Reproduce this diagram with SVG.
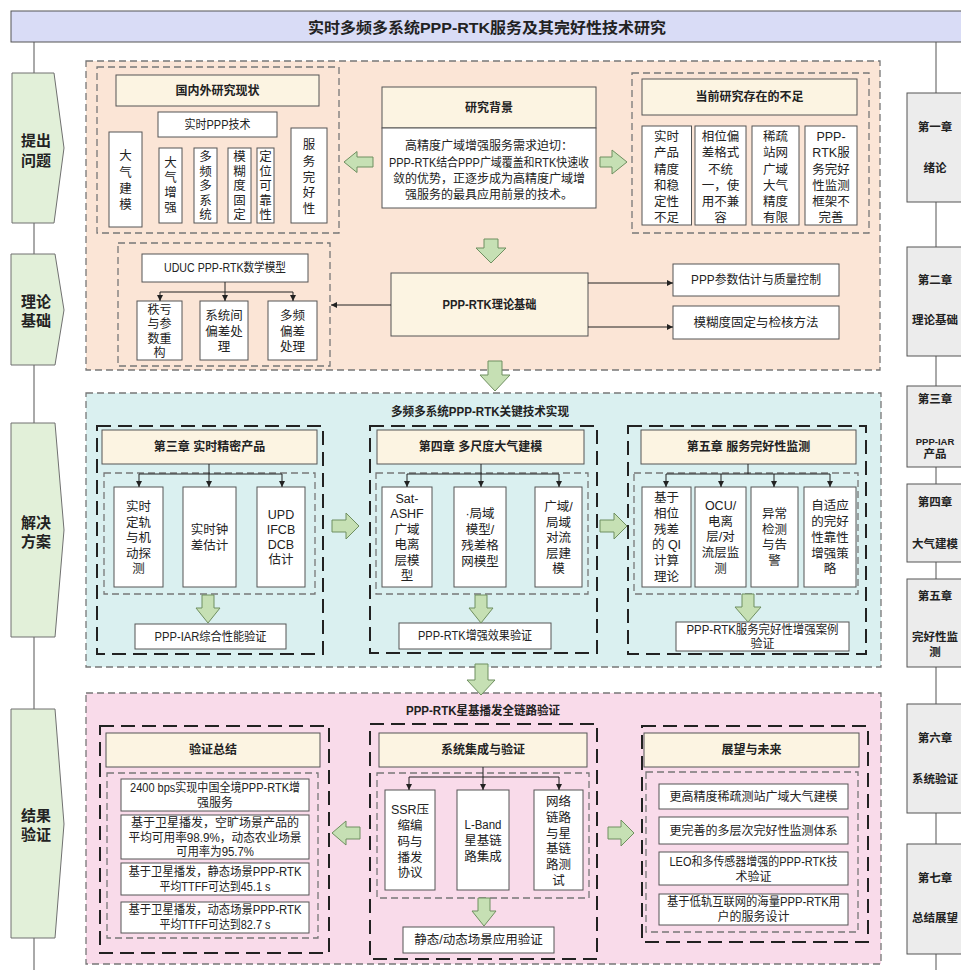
<svg xmlns="http://www.w3.org/2000/svg" width="961" height="970" viewBox="0 0 961 970">
<style>
text{font-family:'Liberation Sans','Noto Sans CJK SC',sans-serif;fill:#222;text-anchor:middle;dominant-baseline:central;font-size:12.5px}
.b{font-weight:bold;font-size:12px}
.s12{font-size:12px}
.lab{font-size:15px;font-weight:bold}
.ch{font-size:11.5px;font-weight:bold}
.sm{font-size:9.5px;font-weight:bold}
.ttl{font-size:15px;font-weight:bold}
.box{fill:#fff;stroke:#555;stroke-width:1}
.hdr{fill:#fcf4e2;stroke:#555;stroke-width:1}
.sec1{fill:#fbe5d6;stroke:#777;stroke-width:1.3;stroke-dasharray:7 4}
.sec2{fill:#daf0f0;stroke:#777;stroke-width:1.3;stroke-dasharray:7 4}
.sec3{fill:#f9dbea;stroke:#777;stroke-width:1.3;stroke-dasharray:7 4}
.grp{fill:none;stroke:#777;stroke-width:1.3;stroke-dasharray:7 4}
.col{fill:none;stroke:#222;stroke-width:2;stroke-dasharray:14 7}
.ga{fill:#c6e0b4;stroke:#6f8f60;stroke-width:1}
.chev{fill:#e2f0d9;stroke:#707070;stroke-width:1}
.chap{fill:#ececec;stroke:#555;stroke-width:1}
.ln{fill:none;stroke:#222;stroke-width:1}
.arr{fill:none;stroke:#222;stroke-width:1;marker-end:url(#ah)}
.spine{stroke:#555;stroke-width:1;fill:none}
</style>
<defs>
<marker id="ah" viewBox="0 0 10 10" refX="10" refY="5" markerWidth="6" markerHeight="6" orient="auto" markerUnits="userSpaceOnUse"><path d="M0,0 L10,5 L0,10 Z" fill="#222"/></marker>
</defs>

<g id="spines">
<line class="spine" x1="34" y1="42" x2="34" y2="970"/>
<line class="spine" x1="936" y1="42" x2="936" y2="970"/>
</g>

<g id="title">
<rect x="11" y="11" width="960" height="31" fill="#d9dcf6" stroke="#555" stroke-width="1"/>
<text class="ttl" x="487" y="27" textLength="358" lengthAdjust="spacingAndGlyphs">实时多频多系统PPP-RTK服务及其完好性技术研究</text>
</g>

<g id="stages">
<g id="stage1"><path class="chev" d="M12,73 H54 L64,148 L54,223 H12 Z"/><text class="lab" x="36" y="140">提出</text><text class="lab" x="36" y="160">问题</text></g>
<g id="stage2"><path class="chev" d="M11,254 H55 L64,310 L55,365 H11 Z"/><text class="lab" x="36" y="301">理论</text><text class="lab" x="36" y="320">基础</text></g>
<g id="stage3"><path class="chev" d="M11,423 H55 L64,530 L55,637 H11 Z"/><text class="lab" x="36" y="522">解决</text><text class="lab" x="36" y="541">方案</text></g>
<g id="stage4"><path class="chev" d="M11,709 H55 L64,824 L55,938 H11 Z"/><text class="lab" x="36" y="815">结果</text><text class="lab" x="36" y="834">验证</text></g>
</g>

<g id="chapters">
<g id="ch1"><rect class="chap" x="907" y="93" width="70" height="109"/><text class="ch" x="935" y="127">第一章</text><text class="ch" x="935" y="168">绪论</text></g>
<g id="ch2"><rect class="chap" x="907" y="247" width="70" height="109"/><text class="ch" x="935" y="280">第二章</text><text class="ch" x="935" y="320">理论基础</text></g>
<g id="ch3"><rect class="chap" x="907" y="386" width="70" height="81"/><text class="ch" x="935" y="399">第三章</text><text class="sm" x="935" y="441">PPP-IAR</text><text class="ch" x="935" y="454">产品</text></g>
<g id="ch4"><rect class="chap" x="907" y="484" width="70" height="78"/><text class="ch" x="935" y="502">第四章</text><text class="ch" x="935" y="544">大气建模</text></g>
<g id="ch5"><rect class="chap" x="907" y="579" width="70" height="88"/><text class="ch" x="935" y="596">第五章</text><text class="ch" x="935" y="637">完好性监</text><text class="ch" x="935" y="652">测</text></g>
<g id="ch6"><rect class="chap" x="907" y="704" width="70" height="109"/><text class="ch" x="935" y="738">第六章</text><text class="ch" x="935" y="779">系统验证</text></g>
<g id="ch7"><rect class="chap" x="907" y="844" width="70" height="110"/><text class="ch" x="935" y="878">第七章</text><text class="ch" x="935" y="918">总结展望</text></g>
</g>

<!-- Section 1 -->
<g id="section1">
<rect class="sec1" x="86" y="61" width="794" height="309"/>
<g id="status">
<rect class="grp" x="97" y="67" width="242" height="166"/>
<rect class="hdr" x="116" y="75" width="203" height="31"/><text class="b" x="217.5" y="91">国内外研究现状</text>
<rect class="box" x="158" y="112" width="119" height="25"/><text x="217.5" y="124.5" textLength="66" lengthAdjust="spacingAndGlyphs">实时PPP技术</text>
<rect class="box" x="109" y="132" width="33" height="95"/>
<text x="125.5" y="156">大</text><text x="125.5" y="173">气</text><text x="125.5" y="189">建</text><text x="125.5" y="205">模</text>
<rect class="box" x="159" y="148" width="23" height="75"/>
<text x="170.5" y="163">大</text><text x="170.5" y="178">气</text><text x="170.5" y="193">增</text><text x="170.5" y="208">强</text>
<rect class="box" x="194" y="148" width="23" height="75"/>
<text x="205.5" y="157">多</text><text x="205.5" y="171.5">频</text><text x="205.5" y="186">多</text><text x="205.5" y="200.5">系</text><text x="205.5" y="215">统</text>
<rect class="box" x="228" y="148" width="23" height="75"/>
<text x="239.5" y="157">模</text><text x="239.5" y="171.5">糊</text><text x="239.5" y="186">度</text><text x="239.5" y="200.5">固</text><text x="239.5" y="215">定</text>
<rect class="box" x="257" y="148" width="17" height="75"/>
<text x="265.5" y="157">定</text><text x="265.5" y="171.5">位</text><text x="265.5" y="186">可</text><text x="265.5" y="200.5">靠</text><text x="265.5" y="215">性</text>
<rect class="box" x="291" y="128" width="36" height="95"/>
<text x="309" y="145">服</text><text x="309" y="162">务</text><text x="309" y="178">完</text><text x="309" y="193">好</text><text x="309" y="209">性</text>
</g>
<g id="background">
<rect class="hdr" x="382" y="87" width="214" height="41"/><text class="b" x="489" y="108">研究背景</text>
<rect class="box" x="382" y="128" width="214" height="80"/>
<text class="s12" x="489" y="146">高精度广域增强服务需求迫切：</text>
<text class="s12" x="489" y="163" textLength="200" lengthAdjust="spacingAndGlyphs">PPP-RTK结合PPP广域覆盖和RTK快速收</text>
<text class="s12" x="489" y="179">敛的优势，正逐步成为高精度广域增</text>
<text class="s12" x="489" y="195">强服务的最具应用前景的技术。</text>
</g>
<g id="shortcomings">
<rect class="grp" x="632" y="73" width="237" height="160"/>
<rect class="hdr" x="642" y="79" width="215" height="36"/><text class="b" x="749.5" y="97">当前研究存在的不足</text>
<rect class="box" x="642" y="126" width="49.5" height="99"/>
<text x="666.5" y="137">实时</text><text x="666.5" y="153">产品</text><text x="666.5" y="169.5">精度</text><text x="666.5" y="186">和稳</text><text x="666.5" y="202">定性</text><text x="666.5" y="218">不足</text>
<rect class="box" x="695" y="126" width="51" height="99"/>
<text x="720.5" y="137">相位偏</text><text x="720.5" y="153">差格式</text><text x="720.5" y="169.5">不统</text><text x="720.5" y="186">一，使</text><text x="720.5" y="202">用不兼</text><text x="720.5" y="218">容</text>
<rect class="box" x="752" y="126" width="47" height="99"/>
<text x="775.5" y="137">稀疏</text><text x="775.5" y="153">站网</text><text x="775.5" y="169.5">广域</text><text x="775.5" y="186">大气</text><text x="775.5" y="202">精度</text><text x="775.5" y="218">有限</text>
<rect class="box" x="805" y="126" width="52" height="99"/>
<text x="831" y="137">PPP-</text><text x="831" y="153">RTK服</text><text x="831" y="169.5">务完好</text><text x="831" y="186">性监测</text><text x="831" y="202">框架不</text><text x="831" y="218">完善</text>
</g>
<g id="uduc">
<rect class="grp" x="118" y="243" width="212" height="123"/>
<rect class="box" x="142" y="254" width="166" height="28"/><text x="225" y="268" textLength="122" lengthAdjust="spacingAndGlyphs">UDUC PPP-RTK数学模型</text>
<rect class="box" x="137" y="301" width="45" height="59"/>
<text class="s12" x="159.5" y="310">秩亏</text><text class="s12" x="159.5" y="324">与参</text><text class="s12" x="159.5" y="338.5">数重</text><text class="s12" x="159.5" y="353">构</text>
<rect class="box" x="200" y="301" width="48" height="59"/>
<text x="224" y="316">系统间</text><text x="224" y="332">偏差处</text><text x="224" y="347">理</text>
<rect class="box" x="268" y="301" width="49" height="59"/>
<text x="292.5" y="316">多频</text><text x="292.5" y="332">偏差</text><text x="292.5" y="347">处理</text>
</g>
<g id="theory">
<rect class="hdr" x="391" y="273" width="197" height="63"/><text class="b" x="489.5" y="305" textLength="94" lengthAdjust="spacingAndGlyphs">PPP-RTK理论基础</text>
</g>
<g id="ppp-param"><rect class="box" x="673" y="264" width="166" height="32"/><text x="756" y="280" textLength="130" lengthAdjust="spacingAndGlyphs">PPP参数估计与质量控制</text></g>
<g id="ar-method"><rect class="box" x="673" y="306" width="166" height="33"/><text x="756" y="322.5">模糊度固定与检核方法</text></g>
</g>

<!-- Section 2 -->
<g id="section2">
<rect class="sec2" x="86" y="393" width="795" height="274"/>
<text class="b" x="480" y="412" textLength="178" lengthAdjust="spacingAndGlyphs">多频多系统PPP-RTK关键技术实现</text>
<g id="chap3">
<rect class="col" x="97" y="426" width="226" height="228"/>
<rect class="hdr" x="102" y="430" width="215" height="34"/><text class="b" x="209.5" y="447">第三章 实时精密产品</text>
<rect class="grp" x="104" y="473" width="211" height="121"/>
<rect class="box" x="114" y="487" width="49" height="100"/>
<text x="138.5" y="507">实时</text><text x="138.5" y="522.5">定轨</text><text x="138.5" y="538">与机</text><text x="138.5" y="553.5">动探</text><text x="138.5" y="569">测</text>
<rect class="box" x="183" y="487" width="53" height="100"/>
<text x="209.5" y="530">实时钟</text><text x="209.5" y="546">差估计</text>
<rect class="box" x="257" y="487" width="48" height="100"/>
<text x="281" y="515">UPD</text><text x="281" y="530">IFCB</text><text x="281" y="545">DCB</text><text x="281" y="560">估计</text>
<rect class="box" x="135" y="624" width="151" height="25"/><text x="210.5" y="636.5" textLength="112" lengthAdjust="spacingAndGlyphs">PPP-IAR综合性能验证</text>
</g>
<g id="chap4">
<rect class="col" x="370" y="426" width="227" height="227"/>
<rect class="hdr" x="377" y="430" width="207" height="34"/><text class="b" x="480.5" y="447">第四章 多尺度大气建模</text>
<rect class="grp" x="376" y="473" width="212" height="121"/>
<rect class="box" x="382" y="487" width="50" height="100"/>
<text x="407" y="499">Sat-</text><text x="407" y="514.4">ASHF</text><text x="407" y="529.8">广域</text><text x="407" y="545.2">电离</text><text x="407" y="560.6">层模</text><text x="407" y="576">型</text>
<rect class="box" x="454" y="487" width="52" height="100"/>
<text x="480" y="514">·局域</text><text x="480" y="530">模型/</text><text x="480" y="546">残差格</text><text x="480" y="561.5">网模型</text>
<rect class="box" x="535" y="487" width="47" height="100"/>
<text x="558.5" y="507">广域/</text><text x="558.5" y="522.5">局域</text><text x="558.5" y="538">对流</text><text x="558.5" y="553.5">层建</text><text x="558.5" y="569">模</text>
<rect class="box" x="399" y="623" width="152" height="26"/><text x="475" y="636" textLength="114" lengthAdjust="spacingAndGlyphs">PPP-RTK增强效果验证</text>
</g>
<g id="chap5">
<rect class="col" x="628" y="426" width="238" height="228"/>
<rect class="hdr" x="641" y="430" width="215" height="34"/><text class="b" x="748.5" y="447">第五章 服务完好性监测</text>
<rect class="grp" x="634" y="473" width="224" height="121"/>
<rect class="box" x="642" y="487" width="49" height="100"/>
<text x="666.5" y="498">基于</text><text x="666.5" y="513.8">相位</text><text x="666.5" y="529.6">残差</text><text x="666.5" y="545.4">的 QI</text><text x="666.5" y="561.2">计算</text><text x="666.5" y="577">理论</text>
<rect class="box" x="695" y="487" width="51" height="100"/>
<text x="720.5" y="506">OCU/</text><text x="720.5" y="521.5">电离</text><text x="720.5" y="537">层/对</text><text x="720.5" y="553">流层监</text><text x="720.5" y="569">测</text>
<rect class="box" x="751" y="487" width="47" height="100"/>
<text x="774.5" y="514">异常</text><text x="774.5" y="529.5">检测</text><text x="774.5" y="545">与告</text><text x="774.5" y="561">警</text>
<rect class="box" x="804" y="487" width="52" height="100"/>
<text x="830" y="506">自适应</text><text x="830" y="522">的完好</text><text x="830" y="538">性靠性</text><text x="830" y="553.5">增强策</text><text x="830" y="569">略</text>
<rect class="box" x="676" y="622" width="173" height="29"/>
<text class="s12" x="762.5" y="629.5" textLength="152" lengthAdjust="spacingAndGlyphs">PPP-RTK服务完好性增强案例</text><text class="s12" x="762.5" y="644">验证</text>
</g>
</g>

<!-- Section 3 -->
<g id="section3">
<rect class="sec3" x="86" y="693" width="795" height="271"/>
<text class="b" x="483" y="711" textLength="154" lengthAdjust="spacingAndGlyphs">PPP-RTK星基播发全链路验证</text>
<g id="summary">
<rect class="col" x="100" y="726" width="229" height="227"/>
<rect class="hdr" x="106" y="733" width="214" height="34"/><text class="b" x="213" y="750">验证总结</text>
<rect class="grp" x="107" y="773" width="211" height="165"/>
<rect class="box" x="121" y="779" width="188" height="32"/>
<text class="s12" x="215" y="788" textLength="170" lengthAdjust="spacingAndGlyphs">2400 bps实现中国全境PPP-RTK增</text><text class="s12" x="215" y="803">强服务</text>
<rect class="box" x="121" y="815" width="188" height="44"/>
<text class="s12" x="215" y="823">基于卫星播发，空旷场景产品的</text><text class="s12" x="215" y="837.5" textLength="173" lengthAdjust="spacingAndGlyphs">平均可用率98.9%，动态农业场景</text><text class="s12" x="215" y="852" textLength="78" lengthAdjust="spacingAndGlyphs">可用率为95.7%</text>
<rect class="box" x="121" y="863" width="188" height="32"/>
<text class="s12" x="215" y="872" textLength="173" lengthAdjust="spacingAndGlyphs">基于卫星播发，静态场景PPP-RTK</text><text class="s12" x="215" y="887" textLength="111" lengthAdjust="spacingAndGlyphs">平均TTFF可达到45.1 s</text>
<rect class="box" x="121" y="902" width="188" height="31"/>
<text class="s12" x="215" y="910" textLength="173" lengthAdjust="spacingAndGlyphs">基于卫星播发，动态场景PPP-RTK</text><text class="s12" x="215" y="925" textLength="111" lengthAdjust="spacingAndGlyphs">平均TTFF可达到82.7 s</text>
</g>
<g id="integration">
<rect class="col" x="370" y="724" width="227" height="235"/>
<rect class="hdr" x="379" y="733" width="208" height="34"/><text class="b" x="483" y="750">系统集成与验证</text>
<rect class="grp" x="377" y="773" width="212" height="125"/>
<rect class="box" x="385" y="790" width="50" height="100"/>
<text x="410" y="810">SSR压</text><text x="410" y="826">缩编</text><text x="410" y="842">码与</text><text x="410" y="857.5">播发</text><text x="410" y="873">协议</text>
<rect class="box" x="457" y="790" width="52" height="100"/>
<text x="483" y="825" textLength="37" lengthAdjust="spacingAndGlyphs">L-Band</text><text x="483" y="841">星基链</text><text x="483" y="857">路集成</text>
<rect class="box" x="534" y="790" width="49" height="100"/>
<text x="558.5" y="802">网络</text><text x="558.5" y="817.8">链路</text><text x="558.5" y="833.6">与星</text><text x="558.5" y="849.4">基链</text><text x="558.5" y="865.2">路测</text><text x="558.5" y="881">试</text>
<rect class="box" x="403" y="927" width="151" height="26"/><text x="478.5" y="940">静态/动态场景应用验证</text>
</g>
<g id="outlook">
<rect class="col" x="642" y="726" width="226" height="216"/>
<rect class="hdr" x="644" y="733" width="215" height="34"/><text class="b" x="751.5" y="750">展望与未来</text>
<rect class="grp" x="646" y="772" width="212" height="160"/>
<rect class="box" x="659" y="784" width="189" height="25"/><text class="s12" x="753.5" y="797">更高精度稀疏测站广域大气建模</text>
<rect class="box" x="659" y="817" width="189" height="27"/><text class="s12" x="753.5" y="830.5">更完善的多层次完好性监测体系</text>
<rect class="box" x="659" y="852" width="189" height="33"/><text class="s12" x="753.5" y="862" textLength="168" lengthAdjust="spacingAndGlyphs">LEO和多传感器增强的PPP-RTK技</text><text class="s12" x="753.5" y="877">术验证</text>
<rect class="box" x="659" y="894" width="189" height="31"/><text class="s12" x="753.5" y="902" textLength="173" lengthAdjust="spacingAndGlyphs">基于低轨互联网的海量PPP-RTK用</text><text class="s12" x="753.5" y="917">户的服务设计</text>
</g>
</g>

<g id="connectors">
<path class="ga" d="M373,157 H357 V151.5 L344,162 L357,172.5 V167 H373 Z"/>
<path class="ga" d="M600,157 H612 V150 L627,162 L612,174 V167 H600 Z"/>
<path class="ga" d="M484,239 H498 V248 H506 L491,263 L476,248 H484 Z"/>
<path class="ga" d="M488,361 H502 V375 H510 L495,391 L480,375 H488 Z"/>
<path class="ga" d="M332,520 H346 V513 L359,526 L346,539 V532 H332 Z"/>
<path class="ga" d="M600,520 H614 V513 L627,526 L614,539 V532 H600 Z"/>
<path class="ga" d="M202,595 H214 V608 H220 L208,623 L196,608 H202 Z"/>
<path class="ga" d="M475,595 H487 V608 H493 L481,623 L469,608 H475 Z"/>
<path class="ga" d="M742,594 H754 V607 H761 L748,622 L735,607 H742 Z"/>
<path class="ga" d="M475,664 H488 V680 H495 L481,695 L467,680 H475 Z"/>
<path class="ga" d="M360,827 H346 V821 L332,833 L346,845 V839 H360 Z"/>
<path class="ga" d="M608,827 H621 V820 L634,833 L621,846 V839 H608 Z"/>
<path class="ga" d="M478,898 H490 V911 H496 L484,926 L472,911 H478 Z"/>
<line class="arr" x1="588" y1="283" x2="673" y2="283"/>
<line class="arr" x1="588" y1="327" x2="673" y2="327"/>
<line class="arr" x1="391" y1="305" x2="331" y2="305"/>
<line class="arr" x1="225" y1="282" x2="225" y2="301"/>
<line class="ln" x1="160" y1="292" x2="293" y2="292"/>
<line class="arr" x1="160" y1="292" x2="160" y2="301"/>
<line class="arr" x1="293" y1="292" x2="293" y2="301"/>
<line class="arr" x1="209" y1="464" x2="209" y2="487"/>
<line class="ln" x1="139" y1="474" x2="282" y2="474"/>
<line class="arr" x1="139" y1="474" x2="139" y2="487"/>
<line class="arr" x1="282" y1="474" x2="282" y2="487"/>
<line class="arr" x1="481" y1="464" x2="481" y2="487"/>
<line class="ln" x1="407" y1="474" x2="559" y2="474"/>
<line class="arr" x1="407" y1="474" x2="407" y2="487"/>
<line class="arr" x1="559" y1="474" x2="559" y2="487"/>
<line class="ln" x1="748" y1="464" x2="748" y2="474"/>
<line class="ln" x1="666" y1="474" x2="830" y2="474"/>
<line class="arr" x1="666" y1="474" x2="666" y2="487"/>
<line class="arr" x1="721" y1="474" x2="721" y2="487"/>
<line class="arr" x1="774" y1="474" x2="774" y2="487"/>
<line class="arr" x1="830" y1="474" x2="830" y2="487"/>
<line class="arr" x1="483" y1="767" x2="483" y2="790"/>
<line class="ln" x1="409" y1="777" x2="559" y2="777"/>
<line class="arr" x1="409" y1="777" x2="409" y2="790"/>
<line class="arr" x1="559" y1="777" x2="559" y2="790"/>
</g>
</svg>
